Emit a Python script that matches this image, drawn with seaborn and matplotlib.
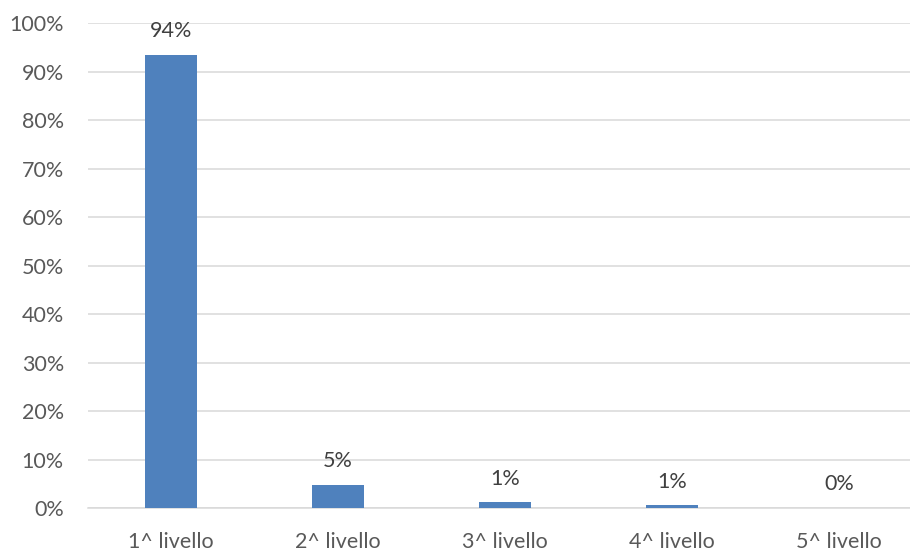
import matplotlib
matplotlib.use("Agg")
import matplotlib.pyplot as plt
import seaborn as sns
import pandas as pd
from matplotlib.ticker import MultipleLocator, FuncFormatter

categories = ["1^ livello", "2^ livello", "3^ livello", "4^ livello", "5^ livello"]
values = [93.4, 4.8, 1.2, 0.6, 0.0]
labels = ["94%", "5%", "1%", "1%", "0%"]

sns.set_theme(style="white")
plt.rcParams['font.family'] = ['Lato', 'DejaVu Sans']

df = pd.DataFrame({"cat": categories, "val": values})

fig = plt.figure(figsize=(9.1, 5.51), dpi=100)
ax = fig.add_axes([87.5 / 910, 42.7 / 551, 835 / 910, 485 / 551])

sns.barplot(data=df, x="cat", y="val", color="#4F81BD", saturation=1,
            width=0.31, ax=ax, zorder=3, edgecolor="#4F81BD", linewidth=0)

ax.set_ylim(0, 100)
ax.set_xlim(-0.5, 4.5)
ax.yaxis.set_major_locator(MultipleLocator(10))
ax.yaxis.set_major_formatter(FuncFormatter(lambda v, p: f"{v:.0f}%"))
ax.grid(axis="y", color="#D9D9D9", linewidth=1.1, zorder=0)
ax.set_axisbelow(True)
for s in ["left", "right", "top"]:
    ax.spines[s].set_visible(False)
ax.spines["bottom"].set_color("#D9D9D9")
ax.spines["bottom"].set_linewidth(1.1)
ax.set_xlabel("")
ax.set_ylabel("")
ax.tick_params(axis="both", length=0, labelsize=15.5, colors="#595959")
ax.tick_params(axis="y", pad=17)
ax.tick_params(axis="x", pad=17)

ax.bar_label(ax.containers[0], labels=labels, padding=10, fontsize=15.5,
             color="#404040")

fig.savefig("out.png", dpi=100)
